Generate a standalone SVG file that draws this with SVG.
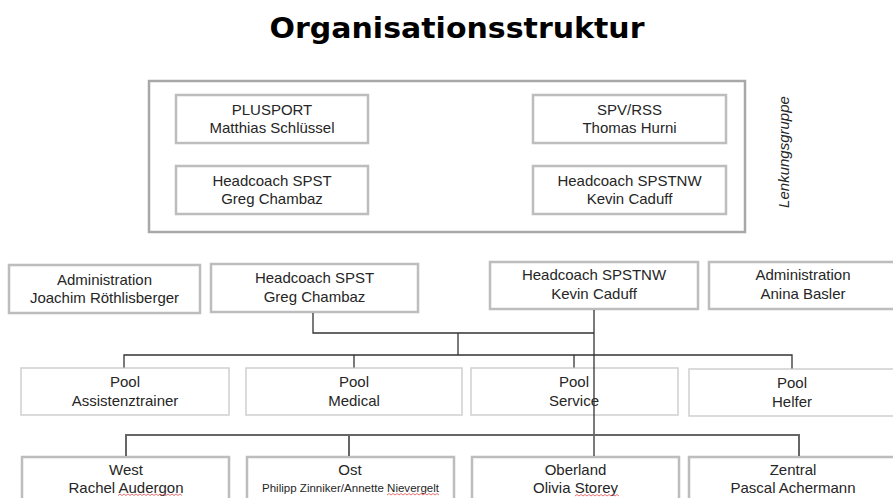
<svg xmlns="http://www.w3.org/2000/svg" width="893" height="498" viewBox="0 0 893 498">
<style>
  .t{font-family:"Liberation Sans",Arial,sans-serif;font-size:15px;fill:#262626;text-anchor:middle}
  .s{font-size:11.5px}
  .title{font-family:"DejaVu Sans",Verdana,sans-serif;font-weight:bold;font-size:29px;fill:#000;text-anchor:middle}
  .lk{font-family:"Liberation Sans",Arial,sans-serif;font-style:italic;font-size:15px;fill:#262626;text-anchor:middle}
  .box{fill:#fff;stroke:#bdbdbd;stroke-width:2.5}
  .outer{fill:none;stroke:#a8a8a8;stroke-width:2.5}
  .pool{fill:#fff;stroke:#cfcfcf;stroke-width:1.5}
  .c{fill:none;stroke:#333;stroke-width:1.3}
  .c2{fill:none;stroke:#666;stroke-width:2}
  .sp{fill:none;stroke:#e05050;stroke-width:0.8}
</style>
<rect width="893" height="498" fill="#fff"/>
<text class="title" x="457" y="38" textLength="375" lengthAdjust="spacingAndGlyphs">Organisationsstruktur</text>

<g id="lenkungsgruppe">
  <rect class="outer" x="149" y="81" width="596" height="151"/>
  <text class="lk" transform="translate(789 152) rotate(-90)" x="0" y="0">Lenkungsgruppe</text>
</g>
<g id="plusport">
  <rect class="box" x="176" y="95" width="192" height="48"/>
  <text class="t" x="272" y="115">PLUSPORT</text>
  <text class="t" x="272" y="133">Matthias Schlüssel</text>
</g>
<g id="spv">
  <rect class="box" x="533" y="95" width="193" height="48"/>
  <text class="t" x="629.5" y="115">SPV/RSS</text>
  <text class="t" x="629.5" y="133">Thomas Hurni</text>
</g>
<g id="lg-spst">
  <rect class="box" x="176" y="166" width="192" height="48"/>
  <text class="t" x="272" y="186">Headcoach SPST</text>
  <text class="t" x="272" y="204">Greg Chambaz</text>
</g>
<g id="lg-spstnw">
  <rect class="box" x="533" y="166" width="193" height="48"/>
  <text class="t" x="629.5" y="186">Headcoach SPSTNW</text>
  <text class="t" x="629.5" y="204">Kevin Caduff</text>
</g>

<g id="admin-joachim">
  <rect class="box" x="9" y="265" width="191" height="48"/>
  <text class="t" x="104.5" y="285">Administration</text>
  <text class="t" x="104.5" y="303">Joachim Röthlisberger</text>
</g>
<g id="hc-spst">
  <rect class="box" x="211" y="264" width="207" height="48"/>
  <text class="t" x="314.5" y="283">Headcoach SPST</text>
  <text class="t" x="314.5" y="302">Greg Chambaz</text>
</g>
<g id="hc-spstnw">
  <rect class="box" x="490" y="262" width="208" height="47"/>
  <text class="t" x="594" y="280">Headcoach SPSTNW</text>
  <text class="t" x="594" y="299">Kevin Caduff</text>
</g>
<g id="admin-anina">
  <rect class="box" x="709" y="262" width="200" height="47"/>
  <text class="t" x="803" y="280">Administration</text>
  <text class="t" x="803" y="299">Anina Basler</text>
</g>

<g id="pool-assist">
  <rect class="pool" x="21" y="368" width="208" height="47"/>
  <text class="t" x="125" y="387">Pool</text>
  <text class="t" x="125" y="406">Assistenztrainer</text>
</g>
<g id="pool-medical">
  <rect class="pool" x="246" y="368" width="216" height="47"/>
  <text class="t" x="354" y="387">Pool</text>
  <text class="t" x="354" y="406">Medical</text>
</g>
<g id="pool-service">
  <rect class="pool" x="471" y="368" width="207" height="47"/>
  <text class="t" x="574" y="387">Pool</text>
  <text class="t" x="574" y="406">Service</text>
</g>
<g id="pool-helfer">
  <rect class="pool" x="689" y="369" width="210" height="47"/>
  <text class="t" x="792" y="388">Pool</text>
  <text class="t" x="792" y="407">Helfer</text>
</g>

<g id="west">
  <rect class="box" x="22" y="457" width="207" height="60"/>
  <text class="t" x="126" y="475">West</text>
  <text class="t" x="126" y="493">Rachel Audergon</text>
  <path class="sp" d="M118 495.5 l2 -1.5 l2 1.5 l2 -1.5 l2 1.5 l2 -1.5 l2 1.5 l2 -1.5 l2 1.5 l2 -1.5 l2 1.5 l2 -1.5 l2 1.5 l2 -1.5 l2 1.5 l2 -1.5 l2 1.5 l2 -1.5 l2 1.5 l2 -1.5 l2 1.5 l2 -1.5 l2 1.5 l2 -1.5 l2 1.5 l2 -1.5 l2 1.5 l2 -1.5 l2 1.5 l2 -1.5 l2 1.5 l2 -1.5 l2 1.5"/>
</g>
<g id="ost">
  <rect class="box" x="247" y="457" width="207" height="60"/>
  <text class="t" x="350" y="475">Ost</text>
  <text class="t s" x="350.5" y="492" textLength="177" lengthAdjust="spacingAndGlyphs">Philipp Zinniker/Annette Nievergelt</text>
  <path class="sp" d="M387 495 l2 -1.5 l2 1.5 l2 -1.5 l2 1.5 l2 -1.5 l2 1.5 l2 -1.5 l2 1.5 l2 -1.5 l2 1.5 l2 -1.5 l2 1.5 l2 -1.5 l2 1.5 l2 -1.5 l2 1.5 l2 -1.5 l2 1.5 l2 -1.5 l2 1.5 l2 -1.5 l2 1.5 l2 -1.5 l2 1.5 l2 -1.5 l2 1.5"/>
</g>
<g id="oberland">
  <rect class="box" x="472" y="457" width="207" height="60"/>
  <text class="t" x="575.5" y="475">Oberland</text>
  <text class="t" x="575.5" y="493">Olivia Storey</text>
  <path class="sp" d="M575 496 l2 -1.5 l2 1.5 l2 -1.5 l2 1.5 l2 -1.5 l2 1.5 l2 -1.5 l2 1.5 l2 -1.5 l2 1.5 l2 -1.5 l2 1.5 l2 -1.5 l2 1.5 l2 -1.5 l2 1.5 l2 -1.5 l2 1.5 l2 -1.5 l2 1.5 l2 -1.5 l2 1.5"/>
</g>
<g id="zentral">
  <rect class="box" x="689" y="457" width="210" height="60"/>
  <text class="t" x="793" y="475">Zentral</text>
  <text class="t" x="793" y="493">Pascal Achermann</text>
</g>

<g id="connectors">
  <path class="c" d="M313 313 V333 H594"/>
  <path class="c" d="M594 310 V456"/>
  <path class="c" d="M458 333 V355"/>
  <path class="c" d="M124 367.5 V355 H792 V368.5"/>
  <path class="c" d="M354 355 V367.5"/>
  <path class="c" d="M574 355 V367.5"/>
  <path class="c2" d="M126 456 V435 H799 V456"/>
  <path class="c2" d="M349 435 V456"/>
</g>
</svg>
